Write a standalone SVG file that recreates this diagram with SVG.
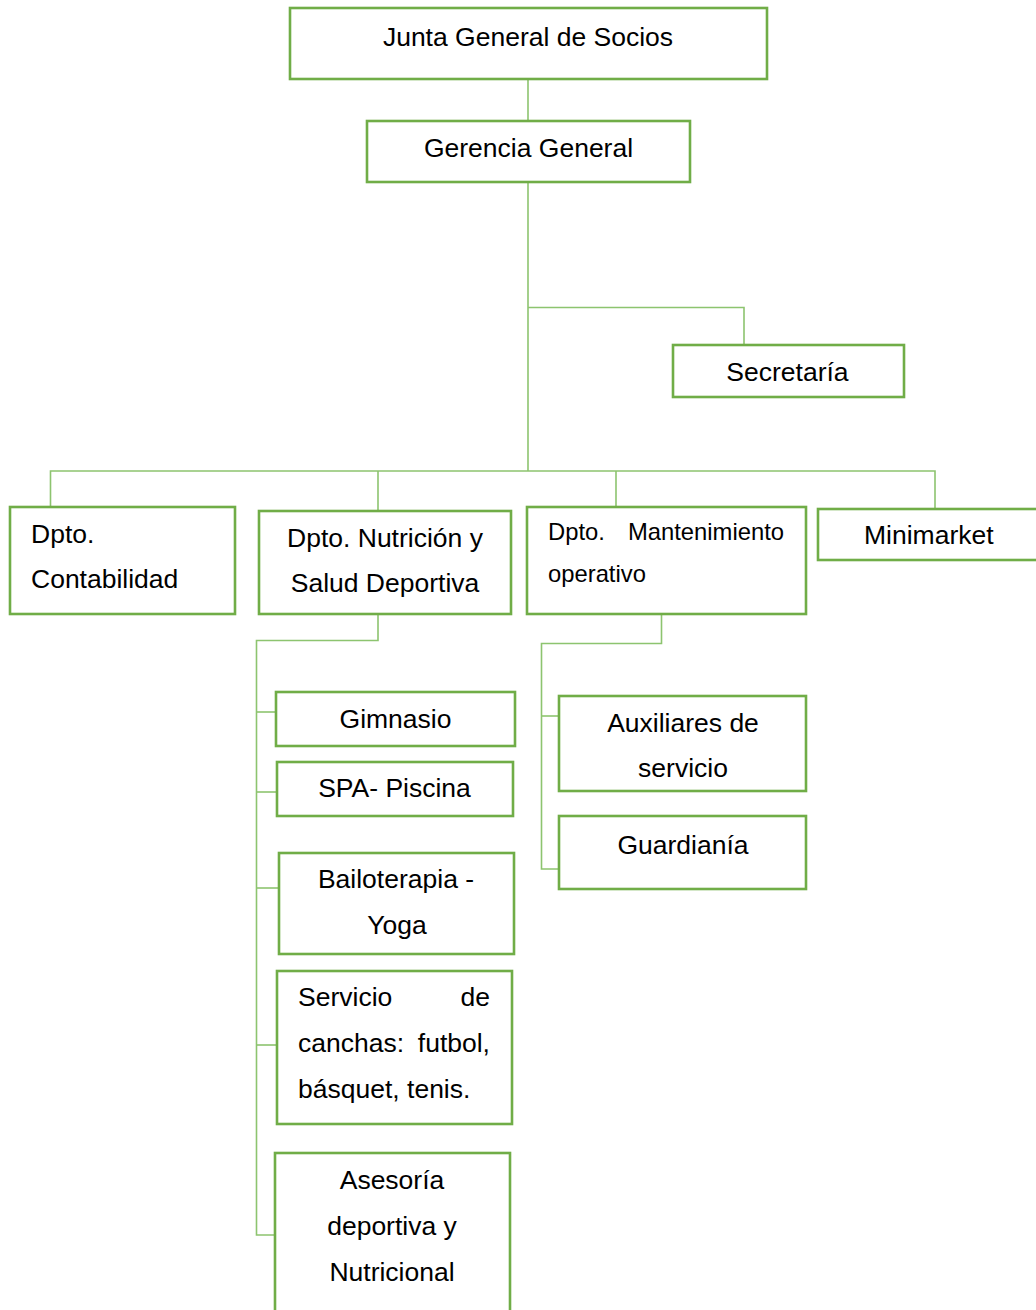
<svg xmlns="http://www.w3.org/2000/svg" width="1036" height="1310" viewBox="0 0 1036 1310">
<style>
.box{fill:#fff;stroke:#70AD47;stroke-width:2.6}
.t{font-family:"Liberation Sans",Arial,sans-serif;font-size:26.5px;fill:#000}
.c{text-anchor:middle}
.e{text-anchor:end}
.s{font-size:23.8px}
#connectors path{fill:none;stroke:#8DC46F;stroke-width:1.6}
</style>
<rect width="1036" height="1310" fill="#fff"/>
<g id="connectors">
<path d="M528 79V121"/>
<path d="M528 182V471"/>
<path d="M528 307.5H744V345"/>
<path d="M50.5 507V471H935V509"/>
<path d="M378 471V511"/>
<path d="M616 471V507"/>
<path d="M378 614V640.5H256.5V1235H275"/>
<path d="M256.5 712H276"/>
<path d="M256.5 792H277"/>
<path d="M256.5 888H279"/>
<path d="M256.5 1045H277"/>
<path d="M661.5 614V643.5H541.5V869H559"/>
<path d="M541.5 716H559"/>
</g>
<g id="junta"><rect class="box" x="290" y="8" width="477" height="71"/><text class="t c" x="528" y="46">Junta General de Socios</text></g>
<g id="gerencia"><rect class="box" x="367" y="121" width="323" height="61"/><text class="t c" x="528.5" y="157">Gerencia General</text></g>
<g id="secretaria"><rect class="box" x="673" y="345" width="231" height="52"/><text class="t c" x="787.5" y="381">Secretaría</text></g>
<g id="contabilidad"><rect class="box" x="10" y="507" width="225" height="107"/><text class="t" x="31" y="543">Dpto.</text><text class="t" x="31" y="588">Contabilidad</text></g>
<g id="nutricion"><rect class="box" x="259" y="511" width="252" height="103"/><text class="t c" x="385" y="547">Dpto. Nutrición y</text><text class="t c" x="385" y="592">Salud Deportiva</text></g>
<g id="mantenimiento"><rect class="box" x="527" y="507" width="279" height="107"/><text class="t s" x="548" y="540">Dpto.</text><text class="t s e" x="784" y="540">Mantenimiento</text><text class="t s" x="548" y="582">operativo</text></g>
<g id="minimarket"><rect class="box" x="818" y="509" width="230" height="51"/><text class="t" x="864" y="544">Minimarket</text></g>
<g id="gimnasio"><rect class="box" x="276" y="692" width="239" height="54"/><text class="t c" x="395.5" y="728">Gimnasio</text></g>
<g id="spa"><rect class="box" x="277" y="762" width="236" height="54"/><text class="t c" x="394.5" y="797">SPA- Piscina</text></g>
<g id="bailoterapia"><rect class="box" x="279" y="853" width="235" height="101"/><text class="t c" x="396" y="888">Bailoterapia -</text><text class="t c" x="397" y="934">Yoga</text></g>
<g id="servicio"><rect class="box" x="277" y="971" width="235" height="153"/><text class="t" x="298" y="1006">Servicio</text><text class="t e" x="490" y="1006">de</text><text class="t" x="298" y="1052">canchas:</text><text class="t e" x="490" y="1052">futbol,</text><text class="t" x="298" y="1098">básquet, tenis.</text></g>
<g id="asesoria"><rect class="box" x="275" y="1153" width="235" height="170"/><text class="t c" x="392" y="1189">Asesoría</text><text class="t c" x="392" y="1235">deportiva y</text><text class="t c" x="392" y="1281">Nutricional</text></g>
<g id="auxiliares"><rect class="box" x="559" y="696" width="247" height="95"/><text class="t c" x="683" y="732">Auxiliares de</text><text class="t c" x="683" y="777">servicio</text></g>
<g id="guardiania"><rect class="box" x="559" y="816" width="247" height="73"/><text class="t c" x="683" y="854">Guardianía</text></g>
</svg>
